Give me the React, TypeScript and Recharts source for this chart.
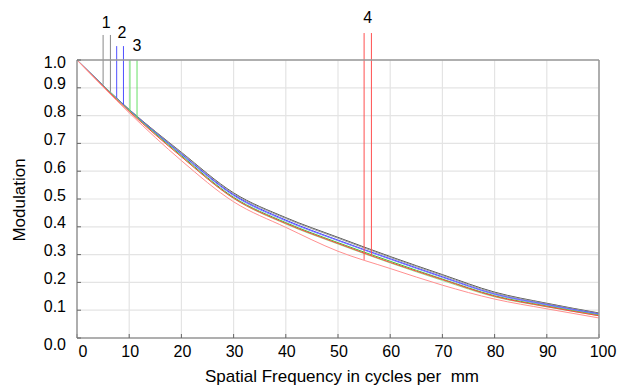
import {CartesianGrid, Line, LineChart, ReferenceDot, ReferenceLine, XAxis, YAxis} from 'recharts';

// spatial frequency (cycles/mm)
const freqs = [0, 10, 20, 30, 40, 50, 60, 70, 80, 90, 100];

// MTF curves, two per field position
const field1S = [1, 0.822, 0.668, 0.522, 0.433, 0.362, 0.293, 0.228, 0.165, 0.125, 0.09];
const field1T = [1, 0.821, 0.666, 0.519, 0.43, 0.359, 0.29, 0.225, 0.162, 0.123, 0.088];
const field2S = [1, 0.82, 0.662, 0.515, 0.424, 0.352, 0.285, 0.22, 0.158, 0.12, 0.086];
const field2T = [1, 0.819, 0.66, 0.512, 0.421, 0.35, 0.283, 0.218, 0.157, 0.119, 0.085];
const field3S = [1, 0.818, 0.656, 0.506, 0.415, 0.343, 0.276, 0.212, 0.152, 0.115, 0.082];
const field3T = [1, 0.817, 0.652, 0.502, 0.41, 0.338, 0.27, 0.207, 0.148, 0.112, 0.08];
const field4S = [1, 0.815, 0.652, 0.503, 0.412, 0.34, 0.272, 0.21, 0.15, 0.113, 0.08];
const field4T = [1, 0.81, 0.638, 0.49, 0.398, 0.312, 0.25, 0.19, 0.14, 0.105, 0.072];

const xTicks = [0, 10, 20, 30, 40, 50, 60, 70, 80, 90, 100];
const yTicks = [0, 0.1, 0.2, 0.3, 0.4, 0.5, 0.6, 0.7, 0.8, 0.9, 1];

// marker frequencies per field (pair of lines), which curve each line lands on, top of line, label spot
const markerNames = ['1', '2', '3', '4'];
const markerFreqs = [[5.0, 6.4], [7.6, 8.9], [10.15, 11.5], [55.0, 56.4]];
const markerCurves = [[field1S, field1T], [field2S, field2T], [field3S, field3T], [field4T, field4S]];
const markerTops = [1.09, 1.05, 1.0, 1.097];
const markerLabelX = [5.6, 8.6, 11.5, 55.7];
const markerLabelY = [1.134, 1.1, 1.054, 1.155];

const series = [
    {key: 'f1s', values: field1S, color: '#555555'},
    {key: 'f1t', values: field1T, color: '#999999'},
    {key: 'f2s', values: field2S, color: '#3333ff'},
    {key: 'f2t', values: field2T, color: '#8080ff'},
    {key: 'f3s', values: field3S, color: '#33cc33'},
    {key: 'f3t', values: field3T, color: '#90ee90'},
    {key: 'f4s', values: field4S, color: '#ff4040'},
    {key: 'f4t', values: field4T, color: '#ff9090'},
];
const markerColors = ['#888888', '#5050ff', '#66e066', '#ff5050'];

const data = freqs.map((f, i) => {
    const row: any = {freq: f};
    series.forEach((s) => (row[s.key] = s.values[i]));
    return row;
});

const interp = (values: number[], x: number) => {
    for (let i = 0; i < freqs.length - 1; i++) {
        if (x >= freqs[i] && x <= freqs[i + 1]) {
            const t = (x - freqs[i]) / (freqs[i + 1] - freqs[i]);
            return values[i] + t * (values[i + 1] - values[i]);
        }
    }
    return values[values.length - 1];
};

const FONT = 'Liberation Sans, Arial, sans-serif';

const YTick = (props: any) => {
    const {x, y, payload} = props;
    const v = payload.value;
    const shift = v === 1 ? 2 : v === 0 ? 6 : -4;
    return (
        <text x={x} y={y + shift} textAnchor="end" dominantBaseline="central" fontSize={16} fontFamily={FONT} fill="#000">
            {v.toFixed(1)}
        </text>
    );
};

const XTick = (props: any) => {
    const {x, y, payload} = props;
    const v = payload.value;
    const shift = v === 0 ? 6 : v === 100 ? 4 : 1;
    return (
        <text x={x + shift} y={y} textAnchor="middle" dominantBaseline="hanging" fontSize={16} fontFamily={FONT} fill="#000">
            {v}
        </text>
    );
};

const XTitle = (props: any) => {
    const {x, width} = props.viewBox;
    return (
        <text x={x + width / 2 + 4} y={376} textAnchor="middle" dominantBaseline="central" fontSize={17} fontFamily={FONT}
              fill="#000" style={{whiteSpace: 'pre'}}>
            {'Spatial Frequency in cycles per  mm'}
        </text>
    );
};

const YTitle = (props: any) => {
    const {y, height} = props.viewBox;
    const cx = 19;
    const cy = y + height / 2 + 1;
    return (
        <text x={cx} y={cy} transform={`rotate(-90 ${cx} ${cy})`} textAnchor="middle" dominantBaseline="central"
              fontSize={17} fontFamily={FONT} fill="#000">
            Modulation
        </text>
    );
};

export default function App() {
    return (
        <div style={{position: 'absolute', left: 0, top: 0, background: '#fff'}}>
            <LineChart width={629} height={387} data={data} margin={{top: 0, right: 0, bottom: 0, left: 0}}>
                <CartesianGrid stroke="#e4e4e4" strokeWidth={1.2}/>
                <XAxis dataKey="freq" type="number" domain={[0, 100]} ticks={xTicks} height={49}
                       axisLine={{stroke: '#999', strokeWidth: 1.5}} tickLine={{stroke: '#666'}}
                       tickSize={-4} tickMargin={12} tick={<XTick/>} label={XTitle}/>
                <XAxis xAxisId="top" orientation="top" type="number" domain={[0, 100]} ticks={xTicks} height={60}
                       axisLine={{stroke: '#999', strokeWidth: 1.5}} tickLine={{stroke: '#666'}}
                       tickSize={-4} tick={false}/>
                <YAxis type="number" domain={[0, 1]} ticks={yTicks} width={77}
                       axisLine={{stroke: '#999', strokeWidth: 1.5}} tickLine={{stroke: '#666'}}
                       tickSize={-4} tickMargin={15} tick={<YTick/>} label={YTitle}/>
                <YAxis yAxisId="right" orientation="right" type="number" domain={[0, 1]} ticks={yTicks} width={30}
                       axisLine={{stroke: '#999', strokeWidth: 1.5}} tickLine={{stroke: '#666'}}
                       tickSize={-4} tick={false}/>
                {series.map((s) => (
                    <Line key={s.key} dataKey={s.key} type="monotone" stroke={s.color} strokeWidth={1}
                          dot={false} activeDot={false} isAnimationActive={false}/>
                ))}
                {markerFreqs.map((pair, m) =>
                    pair.map((f, j) => (
                        <ReferenceLine key={`m${m}-${j}`} ifOverflow="visible" stroke={markerColors[m]} strokeWidth={1}
                                       segment={[{x: f, y: interp(markerCurves[m][j], f)}, {x: f, y: markerTops[m]}]}/>
                    ))
                )}
                {markerNames.map((name, m) => (
                    <ReferenceDot key={`l${m}`} x={markerLabelX[m]} y={markerLabelY[m]} r={1} fill="none" stroke="none"
                                  ifOverflow="visible"
                                  label={{value: name, position: 'center', fontSize: 16, fill: '#000', fontFamily: FONT}}/>
                ))}
            </LineChart>
        </div>
    );
}
